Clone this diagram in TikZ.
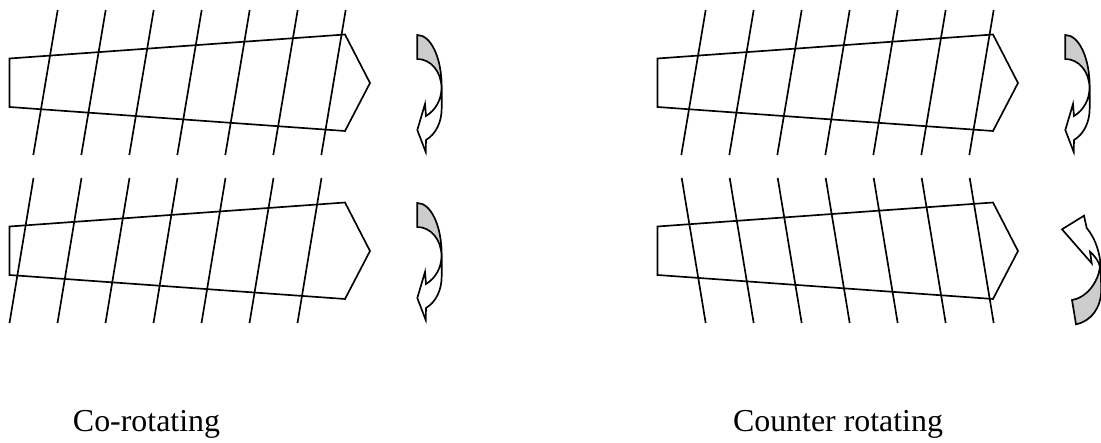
\documentclass[tikz,border=0pt]{standalone}
\usepackage{fontspec}
\setmainfont{Liberation Serif}
\usepackage{xcolor}
\usepackage{tikz}
\definecolor{tgrey}{HTML}{CCCCCC}
\tikzset{
  outline/.style={line width=0.95pt, black, line join=miter},
  caption/.style={font=\fontsize{18.15}{22}\selectfont, text=black, anchor=base}
}

\begin{document}
\begin{tikzpicture}[x=1cm, y=1cm]
\useasboundingbox (0,0) rectangle (22.02,8.86);
% screw bodies
\foreach \sx/\sy in {0/0, 0/-3.36, 12.96/0, 12.96/-3.36}
  \draw[outline, shift={(\sx,\sy)}] (0.19,7.69) -- (6.90,8.17) -- (7.40,7.20) -- (6.90,6.24) -- (0.19,6.72) -- cycle;
% blades
\foreach \i in {0,...,6} {
  \draw[outline] ({1.154+\i*0.96},8.66) -- ({0.666+\i*0.96},5.76);
  \draw[outline] ({0.67+\i*0.96},5.30) -- ({0.19+\i*0.96},2.40);
  \draw[outline] ({14.114+\i*0.96},8.66) -- ({13.626+\i*0.96},5.76);
  \draw[outline] ({13.634+\i*0.96},5.30) -- ({14.114+\i*0.96},2.40);
}
% turning arrows
\foreach \sx/\sy in {0/0, 0/-3.36, 12.96/0} {
  \fill[tgrey, shift={(\sx,\sy)}] (8.346,8.16) -- (8.346,7.68)
    .. controls (8.62,7.68) and (8.83,7.42) .. (8.83,7.10)
    -- (8.834,7.12) .. controls (8.834,7.70) and (8.62,8.16) .. cycle;
  \draw[outline, shift={(\sx,\sy)}] (8.346,8.16) -- (8.346,7.68)
    .. controls (8.62,7.68) and (8.83,7.42) .. (8.83,7.10)
    .. controls (8.83,6.88) and (8.72,6.66) .. (8.52,6.54)
    -- (8.50,6.78) -- (8.346,6.26) -- (8.514,5.82) -- (8.52,6.06)
    .. controls (8.72,6.18) and (8.834,6.42) .. (8.834,6.70)
    -- (8.834,7.12) .. controls (8.834,7.70) and (8.62,8.16) .. cycle;
}
\fill[tgrey] (21.52,2.374) -- (21.44,2.86)
  .. controls (21.72,2.90) and (21.96,3.20) .. (22.0,3.526)
  -- (22.014,3.46) -- (22.026,3.06) .. controls (22.02,2.72) and (21.84,2.44) .. cycle;
\draw[outline] (21.52,2.374) -- (21.44,2.86)
  .. controls (21.72,2.90) and (21.96,3.20) .. (22.0,3.526)
  .. controls (21.98,3.62) and (21.90,3.74) .. (21.80,3.826)
  -- (21.834,3.594) -- (21.24,4.274) -- (21.68,4.546) -- (21.734,4.30)
  .. controls (21.90,4.10) and (22.014,3.80) .. (22.014,3.46)
  -- (22.026,3.06) .. controls (22.02,2.72) and (21.84,2.44) .. cycle;
% captions
\node[caption] (corot) at (2.93,0.24) {Co-rotating};
\node[caption] (counterrot) at (16.76,0.24) {Counter rotating};
\end{tikzpicture}
\end{document}
